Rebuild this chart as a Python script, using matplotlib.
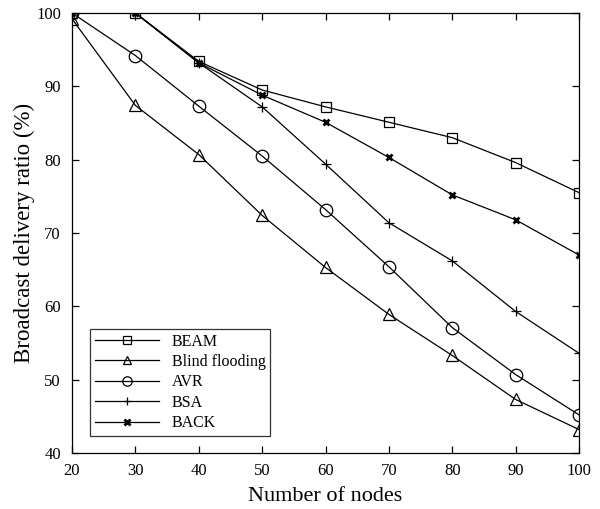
import numpy as np
import matplotlib.pyplot as plt

plt.rcParams['font.family'] = ['Liberation Serif', 'DejaVu Serif']

nodes = [20, 30, 40, 50, 60, 70, 80, 90, 100]
beam = [100, 100, 93.4, 89.5, 87.2, 85.1, 83.0, 79.6, 75.5]
blind = [99.2, 87.4, 80.7, 72.4, 65.3, 58.9, 53.3, 47.3, 43.2]
avr = [100, 94.2, 87.3, 80.5, 73.2, 65.4, 57.1, 50.7, 45.2]
bsa = [100, 100, 93.2, 87.2, 79.4, 71.4, 66.2, 59.3, 53.6]
back = [100, 100, 93.2, 88.8, 85.1, 80.3, 75.2, 71.8, 67.0]

fig = plt.figure(figsize=(6.0, 5.09), dpi=100)
ax = fig.add_axes([0.12, 0.11, 0.845, 0.8645])

ax.plot(nodes, beam, color='black', lw=0.9, marker='s', ms=7, mfc='none', mew=0.9, label='BEAM')
ax.plot(nodes, blind, color='black', lw=0.9, marker='^', ms=8, mfc='none', mew=0.9, label='Blind flooding')
ax.plot(nodes, avr, color='black', lw=0.9, marker='o', ms=9, mfc='none', mew=0.9, label='AVR')
ax.plot(nodes, bsa, color='black', lw=0.9, marker='+', ms=7, mew=0.9, label='BSA')
ax.plot(nodes, back, color='black', lw=0.9, marker='x', ms=5, mew=2.0, label='BACK')

ax.set_xlim(20, 100)
ax.set_ylim(40, 100)
ax.set_xticks(np.arange(20, 101, 10))
ax.set_yticks(np.arange(40, 101, 10))
ax.tick_params(direction='in', top=True, right=True, labelsize=12, length=5, width=0.9)
ax.tick_params(axis='y', pad=8)
ax.tick_params(axis='x', pad=7)
for s in ax.spines.values():
    s.set_linewidth(0.9)

ax.set_xlabel('Number of nodes', fontsize=16, labelpad=6)
ax.set_ylabel('Broadcast delivery ratio (%)', fontsize=16.5, labelpad=1)

leg = ax.legend(loc='lower left', bbox_to_anchor=(0.02, 0.02), fontsize=11.5, frameon=True,
                fancybox=False, edgecolor='black', handlelength=4.0, borderpad=0.3,
                labelspacing=0.28, handletextpad=0.8, markerscale=0.75)
leg.get_frame().set_linewidth(0.9)

fig.savefig('out.png', dpi=100)
